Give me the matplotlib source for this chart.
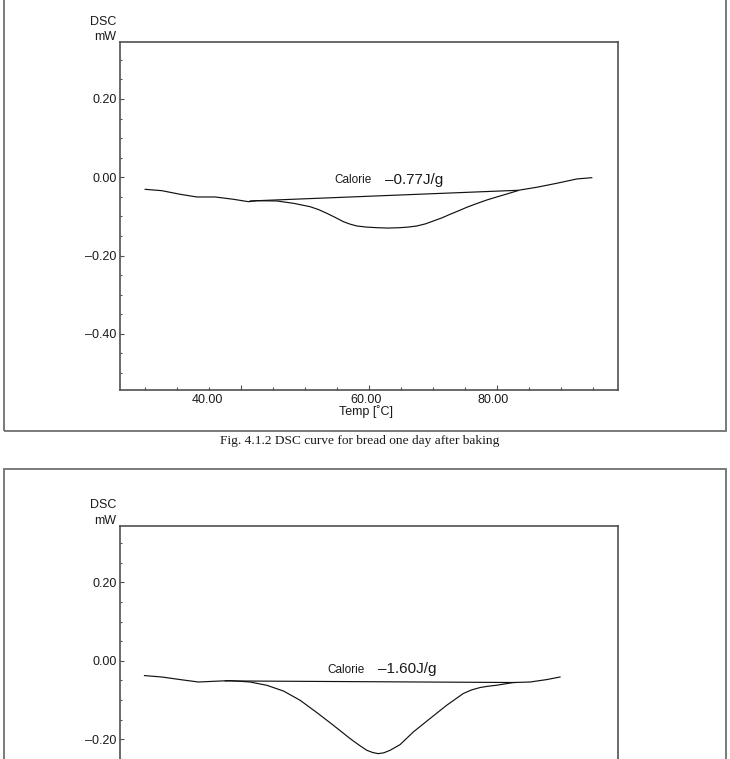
import matplotlib
matplotlib.use("Agg")
import matplotlib.pyplot as plt
from matplotlib.patches import Rectangle
from matplotlib.ticker import MultipleLocator, FixedLocator, NullFormatter

plt.rcParams['font.family'] = ['Liberation Sans', 'DejaVu Sans']

# ---------------- data ----------------
# Panel 1: bread one day after baking
temp1 = [25.0, 27.6, 30.47, 33.08, 35.94, 38.8, 41.14, 42.45, 45.58, 48.17, 50.78,
         52.1, 53.39, 54.7, 55.98, 57.0, 58.08, 59.6, 61.2, 63.0, 64.84, 66.2,
         67.45, 68.8, 70.05, 71.4, 72.66, 74.0, 75.27, 76.8, 78.39, 80.0,
         81.52, 83.6, 86.2, 89.33, 92.45, 94.8]
dsc1 = [-0.0307, -0.0342, -0.0434, -0.0503, -0.0503, -0.0562, -0.0623, -0.0598,
        -0.0605, -0.0664, -0.0751, -0.0825, -0.0920, -0.1025, -0.1134, -0.1195,
        -0.1244, -0.1272, -0.1287, -0.1297, -0.1287, -0.1270,
        -0.1244, -0.1190, -0.1116, -0.1035, -0.0945, -0.0855, -0.0766, -0.0672,
        -0.0580, -0.0500, -0.0427, -0.0324, -0.0255, -0.0153, -0.0043, -0.0010]
base1_t = [41.4, 83.3]
base1_v = [-0.0605, -0.0332]
calorie1 = "\u20130.77J/g"

# Panel 2
temp2 = [24.89, 27.61, 30.47, 33.33, 35.67, 38.28, 41.4, 44.02, 46.61, 49.22,
         51.83, 54.42, 57.03, 58.4, 59.64, 60.6, 61.45, 62.3, 63.28, 64.84,
         66.92, 69.53, 72.14, 74.73, 76.0, 77.34, 78.6, 79.95, 82.55, 85.16,
         87.77, 89.84]
dsc2 = [-0.0378, -0.0414, -0.0480, -0.0542, -0.0524, -0.0506, -0.0542, -0.0626,
        -0.0772, -0.1009, -0.1323, -0.1648, -0.1987, -0.2150, -0.2286, -0.2345,
        -0.2371, -0.2350, -0.2286, -0.2141, -0.1816, -0.1474, -0.1134, -0.0835,
        -0.0745, -0.0683, -0.0650, -0.0624, -0.0555, -0.0542, -0.0480, -0.0414]
base2_t = [37.5, 82.8]
base2_v = [-0.0514, -0.0555]
calorie2 = "\u20131.60J/g"

y_ticks1 = [-0.40, -0.20, 0.00, 0.20]
y_ticklabels1 = ["\u20130.40", "\u20130.20", "0.00", "0.20"]
y_ticks2 = [-0.20, 0.00, 0.20]
y_ticklabels2 = ["\u20130.20", "0.00", "0.20"]
x_marks = [40, 60, 80]
x_label_pos = [34.69, 59.53, 79.38]
x_ticklabels = ["40.00", "60.00", "80.00"]
caption1 = "Fig. 4.1.2 DSC curve for bread one day after baking"

# ---------------- layout ----------------
W, H = 730, 759
fig = plt.figure(figsize=(W / 100, H / 100), dpi=100)


def fx(px):
    return px / W


def fy(py):
    return 1 - py / H


SPINE = '#505050'
TXT = '#1a1a1a'
PX = 0.72  # points per pixel


def panel(offset, temp, dsc, bt, bv, cal_pos, cal_val_pos, cal_text, yt, ytl, show_xlabels):
    # outer frame
    top, bot = -15 + offset, 431 + offset
    fig.patches.append(Rectangle((fx(4), fy(bot)), fx(725.5) - fx(4), fy(top) - fy(bot),
                                 transform=fig.transFigure, fill=False,
                                 edgecolor='#707070', linewidth=1.3, zorder=0))
    ax_top, ax_bot = 42.3 + offset, 390 + offset
    ax = fig.add_axes([fx(120.5), fy(ax_bot), fx(618.3) - fx(120.5), fy(ax_top) - fy(ax_bot)])
    ax.plot(temp, dsc, color='#111111', linewidth=0.85)
    ax.plot(bt, bv, color='#111111', linewidth=0.85)
    ax.set_xlim(21.14, 98.95)
    ax.set_ylim(-0.5433, 0.3448)
    for s in ax.spines.values():
        s.set_color(SPINE)
        s.set_linewidth(1.2)
    # y ticks
    ax.set_yticks(yt)
    ax.set_yticklabels(ytl)
    ax.yaxis.set_minor_locator(MultipleLocator(0.05))
    ax.tick_params(axis='y', which='major', direction='in', length=4 * PX, width=0.8,
                   color=SPINE, labelsize=9, pad=2.7, labelcolor=TXT)
    ax.tick_params(axis='y', which='minor', direction='in', length=2.5 * PX, width=0.8,
                   color=SPINE)
    # x ticks: labels (no marks) + minor marks
    ax.xaxis.set_major_locator(FixedLocator(x_label_pos))
    ax.set_xticklabels(x_ticklabels)
    ax.xaxis.set_minor_locator(FixedLocator([v for v in range(25, 100, 5) if v not in x_marks]))
    ax.tick_params(axis='x', which='major', direction='in', length=0, labelsize=9,
                   pad=2.6, labelcolor=TXT, labelbottom=show_xlabels)
    ax.tick_params(axis='x', which='minor', direction='in', length=3.5 * PX, width=0.8,
                   color=SPINE)
    ax.tick_params(right=False, top=False, which='both')
    sec = ax.secondary_xaxis('bottom')
    sec.set_xticks(x_marks)
    sec.xaxis.set_major_formatter(NullFormatter())
    sec.tick_params(direction='in', length=5 * PX, width=0.8, color=SPINE)
    sec.spines['bottom'].set_visible(False)
    # labels
    if show_xlabels:
        ax.set_xlabel("Temp [\u02daC]", fontsize=9, color=TXT)
        ax.xaxis.set_label_coords((366 - 120.5) / 497.8, (390 - 405.5) / 347.7)
    ax.text(-0.009, (390 - 16.0) / 347.7, "DSC", transform=ax.transAxes, ha='right',
            va='top', fontsize=9, color=TXT)
    ax.text(-0.009, (390 - 31.0) / 347.7, "mW", transform=ax.transAxes, ha='right',
            va='top', fontsize=9, color=TXT)
    ax.text(cal_pos[0], cal_pos[1], "Calorie", fontsize=8.5, color=TXT,
            ha='left', va='baseline')
    ax.text(cal_val_pos[0], cal_val_pos[1], cal_text, fontsize=11, color=TXT,
            ha='left', va='baseline')
    return ax


panel(0, temp1, dsc1, base1_t, base1_v, (54.53, -0.0153), (62.5, -0.017), calorie1,
      y_ticks1, y_ticklabels1, True)
fig.text(fx(360), fy(441), caption1, ha='center', va='center', fontsize=9.6,
         family=['Liberation Serif', 'DejaVu Serif'], color=TXT)
panel(483.5, temp2, dsc2, base2_t, base2_v, (53.4, -0.032), (61.45, -0.032), calorie2,
      y_ticks2, y_ticklabels2, False)

fig.savefig("out.png", dpi=100)
